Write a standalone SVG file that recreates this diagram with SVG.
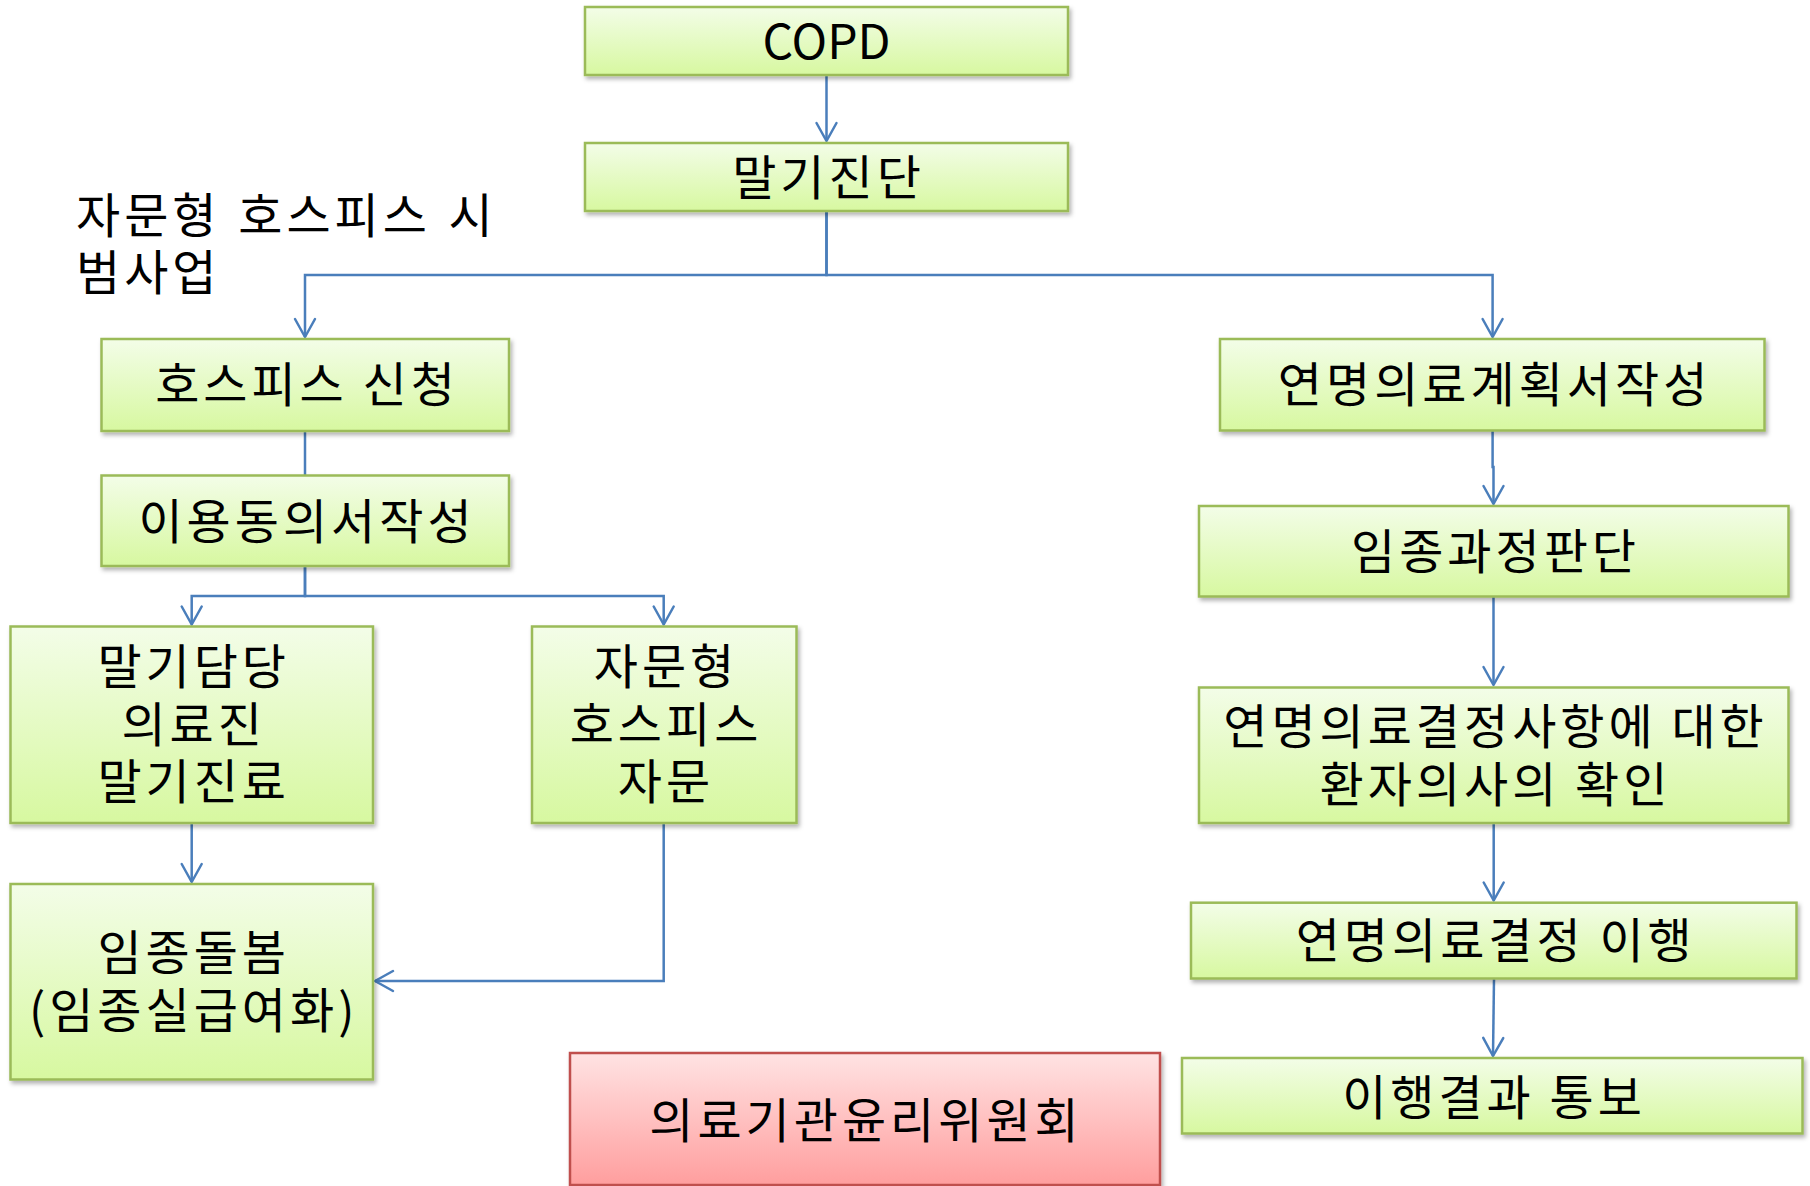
<svg xmlns="http://www.w3.org/2000/svg" width="1810" height="1186" viewBox="0 0 1810 1186">
  <style>
    .box { fill: url(#gGreen); stroke: #9bbb59; stroke-width: 2.5; filter: url(#shadow); }
    .red { fill: url(#gRed); stroke: #c0504d; stroke-width: 2.5; filter: url(#shadow); }
    .t { font-family: "Noto Sans CJK KR", "Noto Sans", sans-serif; font-size: 48px; fill: #000; text-anchor: middle; letter-spacing: 4px; }
    .latin { letter-spacing: 0; }
    .title { font-family: "Noto Sans CJK KR", "Noto Sans", sans-serif; font-size: 48px; fill: #000; letter-spacing: 4px; word-spacing: 3px; }
    .c { fill: none; stroke: #4a7ebb; stroke-width: 2.5; marker-end: url(#arr); }
  </style>
  <defs>
    <linearGradient id="gGreen" x1="0" y1="0" x2="0" y2="1">
      <stop offset="0" stop-color="#f3fde8"/>
      <stop offset="1" stop-color="#d7f8a0"/>
    </linearGradient>
    <linearGradient id="gRed" x1="0" y1="0" x2="0" y2="1">
      <stop offset="0" stop-color="#ffe3e3"/>
      <stop offset="1" stop-color="#ff9e9e"/>
    </linearGradient>
    <filter id="shadow" x="-5%" y="-10%" width="112%" height="125%">
      <feDropShadow dx="2" dy="3" stdDeviation="2" flood-color="#000" flood-opacity="0.3"/>
    </filter>
    <marker id="arr" markerUnits="userSpaceOnUse" viewBox="-21 -13 24 26" markerWidth="24" markerHeight="26" refX="0" refY="0" orient="auto">
      <path d="M-18,-10 L0,0 L-18,10" fill="none" stroke="#4a7ebb" stroke-width="2.5" stroke-linecap="round" stroke-linejoin="round"/>
    </marker>
  </defs>
  <rect width="1810" height="1186" fill="#fff"/>

  <g id="title">
    <text class="title" x="76" y="233">자문형 호스피스 시</text>
    <text class="title" x="76" y="290">범사업</text>
  </g>

  <g id="connectors">
    <path class="c" d="M826.5,75 V141"/>
    <path class="c" d="M826.5,211 V275 H305 V337"/>
    <path class="c" d="M826.5,211 V275 H1492.6 V337"/>
    <path class="c" d="M305,431 V504"/>
    <path class="c" d="M305,566 V596 H191.7 V624.5"/>
    <path class="c" d="M305,566 V596 H663.7 V624.5"/>
    <path class="c" d="M191.7,823 V882"/>
    <path class="c" d="M663.7,823 V981 H375"/>
    <path class="c" d="M1492.6,431 V467 H1493.5 V504"/>
    <path class="c" d="M1493.5,597 V685"/>
    <path class="c" d="M1493.7,823 V900.5"/>
    <path class="c" d="M1494,979 L1493,1056"/>
  </g>

  <g id="copd">
    <rect class="box" x="585" y="7" width="483" height="68"/>
    <text class="t latin" x="826.5" y="59">COPD</text>
  </g>
  <g id="terminal-diagnosis">
    <rect class="box" x="585" y="143" width="483" height="68"/>
    <text class="t" x="828.5" y="195">말기진단</text>
  </g>
  <g id="hospice-apply">
    <rect class="box" x="101.5" y="339" width="407.5" height="92"/>
    <text class="t" x="307" y="402">호스피스 신청</text>
  </g>
  <g id="consent">
    <rect class="box" x="101.5" y="475.5" width="407.5" height="90.5"/>
    <text class="t" x="307" y="539">이용동의서작성</text>
  </g>
  <g id="terminal-care-team">
    <rect class="box" x="10.5" y="626.5" width="362.5" height="196.5"/>
    <text class="t" x="193.7" y="684">말기담당<tspan x="193.7" dy="57.5">의료진</tspan><tspan x="193.7" dy="57.5">말기진료</tspan></text>
  </g>
  <g id="consult-hospice">
    <rect class="box" x="532" y="626.5" width="264.5" height="196.5"/>
    <text class="t" x="666" y="684">자문형<tspan x="666" dy="57.5">호스피스</tspan><tspan x="666" dy="57.5">자문</tspan></text>
  </g>
  <g id="end-of-life-care">
    <rect class="box" x="10.5" y="884" width="362.5" height="195.5"/>
    <text class="t" x="193.7" y="970">임종돌봄<tspan x="193.7" dy="57.5">(임종실급여화)</tspan></text>
  </g>
  <g id="ethics-committee">
    <rect class="red" x="570" y="1053" width="590" height="132"/>
    <text class="t" x="866" y="1138">의료기관윤리위원회</text>
  </g>
  <g id="lst-plan">
    <rect class="box" x="1220" y="339" width="544.5" height="91.5"/>
    <text class="t" x="1494.6" y="402">연명의료계획서작성</text>
  </g>
  <g id="dying-judgment">
    <rect class="box" x="1199" y="506" width="589.5" height="90.5"/>
    <text class="t" x="1495.5" y="569">임종과정판단</text>
  </g>
  <g id="patient-intent">
    <rect class="box" x="1199" y="687.5" width="589.5" height="135.5"/>
    <text class="t" x="1495.5" y="744">연명의료결정사항에 대한<tspan x="1495.5" dy="57.5">환자의사의 확인</tspan></text>
  </g>
  <g id="lst-execution">
    <rect class="box" x="1191" y="902.7" width="605.5" height="75.8"/>
    <text class="t" x="1495.7" y="958">연명의료결정 이행</text>
  </g>
  <g id="result-notice">
    <rect class="box" x="1182" y="1058" width="620.5" height="75.5"/>
    <text class="t" x="1494" y="1115">이행결과 통보</text>
  </g>
</svg>
